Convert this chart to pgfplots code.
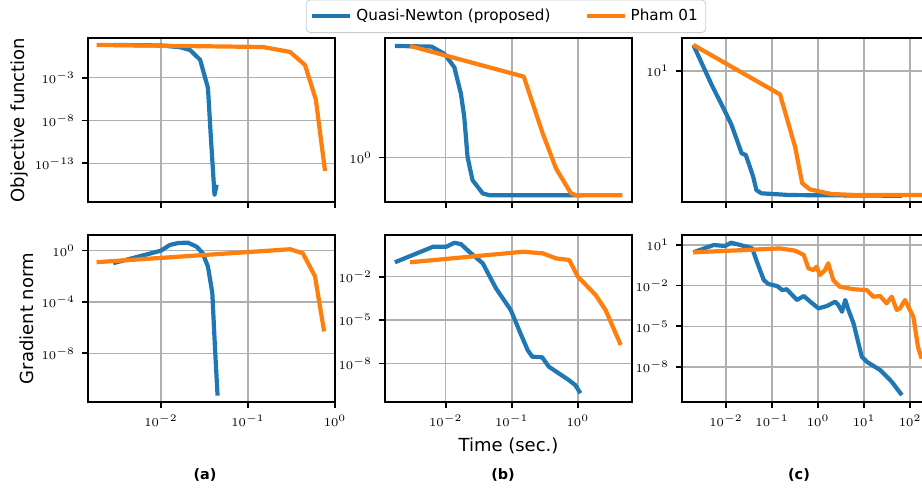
\documentclass[border=0pt]{standalone}
\usepackage{fontspec}
\setmainfont{DejaVu Sans}
\usepackage{pgfplots}
\pgfplotsset{compat=1.18}
\definecolor{c0}{HTML}{1F77B4}
\definecolor{c1}{HTML}{FF7F0E}
\definecolor{gridgray}{HTML}{B0B0B0}
\pgfplotsset{
  panel/.style={
    scale only axis, width=123.5pt,
    axis line style={black, line width=0.9pt},
    tick pos=left,
    tick align=outside, major tick length=3pt, minor tick length=0pt,
    tick style={black, line width=0.8pt},
    grid=major, major grid style={gridgray, line width=0.7pt},
    tick label style={font=\fontsize{6}{7}\selectfont},
    enlargelimits=false,
  },
  toprow/.style={height=82pt, xticklabels={}},
  botrow/.style={height=83.5pt},
  qn/.style={c0, line width=2.1pt, line join=round},
  ph/.style={c1, line width=2.1pt, line join=round},
  every axis label/.append style={font=\fontsize{9}{10}\selectfont},
}
\begin{document}
\begin{tikzpicture}
% ---- column (a) ----
\begin{loglogaxis}[panel, toprow, at={(44pt,-19pt)}, anchor=north west,
  xmin=1.449e-3, xmax=1, ymin=2.95e-18, ymax=44.7,
  xtick={1e-2,1e-1,1}, ytick={1e-3,1e-8,1e-13},
  ylabel={Objective function},
  ylabel style={at={(axis description cs:-0.276,0.5)}, anchor=center}]
\addplot[qn] coordinates {(2.818e-3,6.918)(1e-2,6.026)(1.660e-2,3.715)(2.153e-2,1.778)(2.818e-2,0.1259)(3.467e-2,6.31e-5)(3.715e-2,3.98e-10)(4.121e-2,2.0e-17)(4.365e-2,3.16e-16)};
\addplot[ph] coordinates {(1.820e-3,6.918)(0.1479,3.981)(0.3041,1.047)(0.4519,3.162e-2)(0.6026,2.754e-6)(0.7674,1.259e-14)};
\end{loglogaxis}
\begin{loglogaxis}[panel, botrow, at={(44pt,-117.5pt)}, anchor=north west,
  xmin=1.449e-3, xmax=1, ymin=1.585e-12, ymax=16.6,
  xtick={1e-2,1e-1,1}, ytick={1,1e-4,1e-8},
  ylabel={Gradient norm},
  ylabel style={at={(axis description cs:-0.248,0.5)}, anchor=center}]
\addplot[qn] coordinates {(2.818e-3,0.1047)(1e-2,1)(1.259e-2,2.754)(1.585e-2,3.981)(2.042e-2,4.169)(2.570e-2,2.042)(3.020e-2,0.631)(3.467e-2,5.623e-2)(3.890e-2,5.012e-4)(4.169e-2,3.162e-8)(4.467e-2,5.012e-12)};
\addplot[ph] coordinates {(1.820e-3,0.1259)(0.3041,1.288)(0.4266,0.631)(0.5888,1e-2)(0.7499,5.012e-7)};
\end{loglogaxis}
% ---- column (b) ----
\begin{loglogaxis}[panel, toprow, at={(192.5pt,-19pt)}, anchor=north west,
  xmin=1.202e-3, xmax=6.607, ymin=0.48, ymax=7.19,
  xtick={1e-2,1e-1,1}, ytick={1},
  legend columns=2,
  legend style={at={(axis description cs:0.49,1)}, anchor=south, yshift=2.5pt,
    draw=black!20, rounded corners=2pt, fill=white,
    font=\fontsize{7.6}{9}\selectfont, inner xsep=2pt, inner ysep=2.5pt,
    /tikz/every even column/.append style={column sep=15pt}},
  legend image code/.code={\draw[#1] (0pt,0pt) -- (19pt,0pt);}]
\addplot[qn] coordinates {(1.698e-3,6.310)(6.095e-3,6.237)(9.55e-3,5.534)(1.349e-2,4.436)(1.698e-2,2.864)(1.905e-2,1.950)(2.138e-2,1.009)(2.541e-2,0.6887)(3.631e-2,0.5534)(4.571e-2,0.5370)(1.175,0.5370)};
\addlegendentry{Quasi-Newton (proposed)}
\addplot[ph] coordinates {(2.864e-3,6.310)(0.1517,3.802)(0.2951,1.483)(0.4677,0.8337)(0.7889,0.5534)(0.9333,0.5370)(4.721,0.5370)};
\addlegendentry{Pham 01}
\end{loglogaxis}
\begin{loglogaxis}[panel, botrow, at={(192.5pt,-117.5pt)}, anchor=north west,
  xmin=1.202e-3, xmax=6.607, ymin=2.089e-11, ymax=7.762,
  xtick={1e-2,1e-1,1}, ytick={1e-2,1e-5,1e-8},
  xlabel={Time (sec.)},
  xlabel style={at={(axis description cs:0.5,-0.263)}, anchor=center}]
\addplot[qn] coordinates {(1.698e-3,0.1)(6.457e-3,1.202)(1.023e-2,1.202)(1.349e-2,2.239)(1.698e-2,1.820)(2.265e-2,0.537)(3.631e-2,8.511e-2)(5.754e-2,1.585e-3)(9.66e-2,4.898e-5)(0.1288,2.042e-6)(0.1738,8.318e-8)(0.2042,2.884e-8)(0.2884,2.630e-8)(0.3631,5.888e-9)(0.5129,2.042e-9)(0.7244,7.079e-10)(0.912,3.162e-10)(1.096,8.511e-11)};
\addplot[ph] coordinates {(2.864e-3,0.1)(0.1479,0.537)(0.2951,0.4169)(0.4677,0.1862)(0.7413,0.1445)(1.0,1e-2)(1.259,3.467e-3)(1.862,5.370e-4)(2.630,4.898e-5)(4.467,1.862e-7)};
\end{loglogaxis}
% ---- column (c) ----
\begin{loglogaxis}[panel, toprow, at={(341pt,-19pt)}, anchor=north west,
  xmin=1.104e-3, xmax=257.0, ymin=1.25, ymax=16.9,
  xtick={1e-2,1e-1,1,10,100}, ytick={10}]
\addplot[qn] coordinates {(1.950e-3,15.14)(4.898e-3,8.00)(1e-2,5.105)(1.318e-2,4.246)(2.188e-2,2.704)(2.692e-2,2.636)(3.890e-2,1.866)(4.571e-2,1.510)(5.888e-2,1.435)(0.2455,1.396)(66.07,1.380)};
\addplot[ph] coordinates {(1.950e-3,15.14)(0.1489,6.902)(0.3162,3.006)(0.4519,1.683)(0.6607,1.528)(1.950,1.419)(6.761,1.396)(281.8,1.396)};
\end{loglogaxis}
\begin{loglogaxis}[panel, botrow, at={(341pt,-117.5pt)}, anchor=north west,
  xmin=1.104e-3, xmax=257.0, ymin=2.512e-11, ymax=54.95,
  xtick={1e-2,1e-1,1,10,100}, ytick={10,1e-2,1e-5,1e-8}]
\addplot[qn] coordinates {(1.950e-3,2.884)(5.370e-3,10)(9.55e-3,8.511)(1.288e-2,14.79)(2.042e-2,10)(3.715e-2,5.623)(4.677e-2,0.5888)(6.607e-2,2.570e-2)(8.318e-2,1.318e-2)(0.1288,9.333e-3)(0.1660,4.677e-3)(0.2089,5.370e-3)(0.3467,8.710e-4)(0.4898,1.698e-3)(0.6761,6.457e-4)(1.023,2.089e-4)(1.549,3.090e-4)(2.344,6.457e-4)(2.754,3.715e-4)(3.311,1.175e-4)(3.890,8.710e-4)(4.571,1.585e-4)(5.888,1.622e-5)(8.913,5.495e-8)(11.48,2.344e-8)(22.39,5.754e-9)(39.81,7.943e-10)(66.07,8.128e-11)};
\addplot[ph] coordinates {(1.950e-3,2.884)(0.1489,5.623)(0.3162,3.802)(0.4898,1.820)(0.6166,0.1905)(0.7943,0.1413)(0.9333,0.2512)(1.096,6.026e-2)(1.413,0.1413)(1.660,0.4467)(2.138,2.570e-2)(2.951,8.318e-3)(5.888,5.370e-3)(11.48,4.677e-3)(15.85,1.514e-3)(22.39,1.698e-3)(30.90,4.898e-4)(39.81,1.514e-3)(51.29,1.585e-4)(60.26,2.089e-4)(77.62,8.710e-4)(91.20,2.754e-4)(117.5,5.012e-5)(147.9,3.020e-7)(177.8,3.98e-8)};
\end{loglogaxis}
% sub-captions
\node[font=\bfseries\fontsize{7.2}{8}\selectfont] at (102.5pt,-237.5pt) {(a)};
\node[font=\bfseries\fontsize{7.2}{8}\selectfont] at (251.5pt,-237.5pt) {(b)};
\node[font=\bfseries\fontsize{7.2}{8}\selectfont] at (399.5pt,-237.5pt) {(c)};
\pgfresetboundingbox
\useasboundingbox (0pt,0pt) rectangle (461pt,-244pt);
\end{tikzpicture}
\end{document}
